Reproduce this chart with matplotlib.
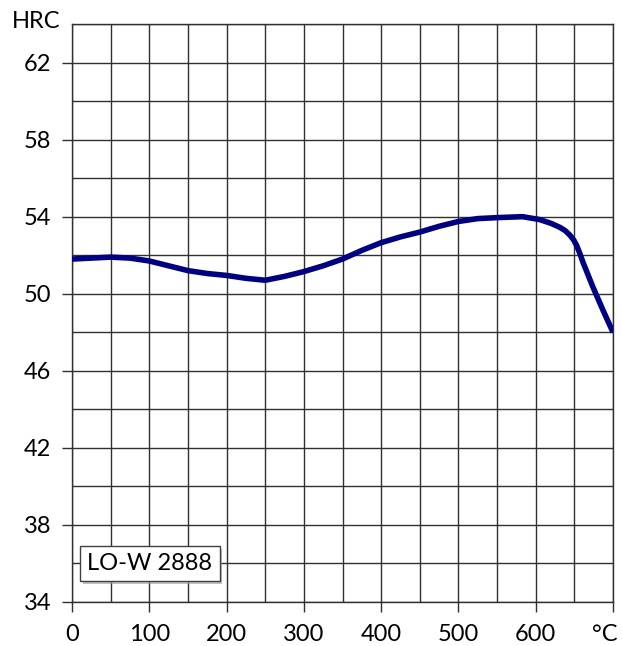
import matplotlib
matplotlib.use("Agg")
import matplotlib.pyplot as plt
import matplotlib.patheffects as pe
import matplotlib.transforms as mtransforms
import numpy as np

temps = [0, 25, 50, 75, 100, 125, 150, 175, 200, 225, 250, 275, 300, 325, 350, 375, 400, 425, 450, 475, 500, 525, 550, 583, 605, 620, 631, 638, 644, 649, 653, 657, 661, 674, 687, 700]
hrc = [51.8, 51.85, 51.9, 51.85, 51.7, 51.45, 51.2, 51.05, 50.95, 50.8, 50.7, 50.9, 51.15, 51.45, 51.8, 52.25, 52.65, 52.95, 53.2, 53.5, 53.75, 53.9, 53.95, 54.0, 53.85, 53.65, 53.45, 53.28, 53.05, 52.8, 52.5, 52.1, 51.65, 50.35, 49.15, 48.0]

x_ticks = [0, 100, 200, 300, 400, 500, 600, 700]
x_labels = ["0", "100", "200", "300", "400", "500", "600", "°C"]
y_ticks = [34, 38, 42, 46, 50, 54, 58, 62]
label_text = "LO-W 2888"

plt.rcParams['font.family'] = ['Lato', 'DejaVu Sans']

fig = plt.figure(figsize=(6.22, 6.46), dpi=100)
ax = fig.add_axes([72/622, 1-602/646, (613-72)/622, (602-24)/646])

ax.set_xlim(0, 700)
ax.set_ylim(34, 64)

for xv in np.arange(0, 701, 50):
    ax.axvline(xv, color='#303030', lw=1.0, zorder=1)
for yv in np.arange(34, 64.1, 2):
    ax.axhline(yv, color='#303030', lw=1.0, zorder=1)

ax.plot(temps, hrc, color='#000080', lw=4.0, solid_capstyle='butt', solid_joinstyle='round', zorder=3)

ax.set_xticks(x_ticks)
ax.set_xticklabels(x_labels)
ax.set_yticks(y_ticks)
ax.tick_params(axis='both', direction='out', length=7, width=1, color='#303030', labelsize=17)
ax.tick_params(axis='x', pad=9)
ax.tick_params(axis='y', pad=8)
for s in ax.spines.values():
    s.set_color('#303030')
    s.set_linewidth(1.0)

last = ax.get_xticklabels()[-1]
last.set_transform(last.get_transform() + mtransforms.ScaledTranslation(-8/100, 0, fig.dpi_scale_trans))

fig.text(12/622, 1-22/646, "HRC", fontsize=17, ha='left', va='center')

t = ax.text(20, 36.0, label_text, fontsize=17, ha='left', va='center', zorder=5,
            bbox=dict(boxstyle='square,pad=0.3', fc='white', ec='#404040', lw=1.0))
t.get_bbox_patch().set_path_effects([pe.SimplePatchShadow(offset=(2, -2), shadow_rgbFace='#999999', alpha=0.6), pe.Normal()])

fig.savefig("out.png", dpi=100)
